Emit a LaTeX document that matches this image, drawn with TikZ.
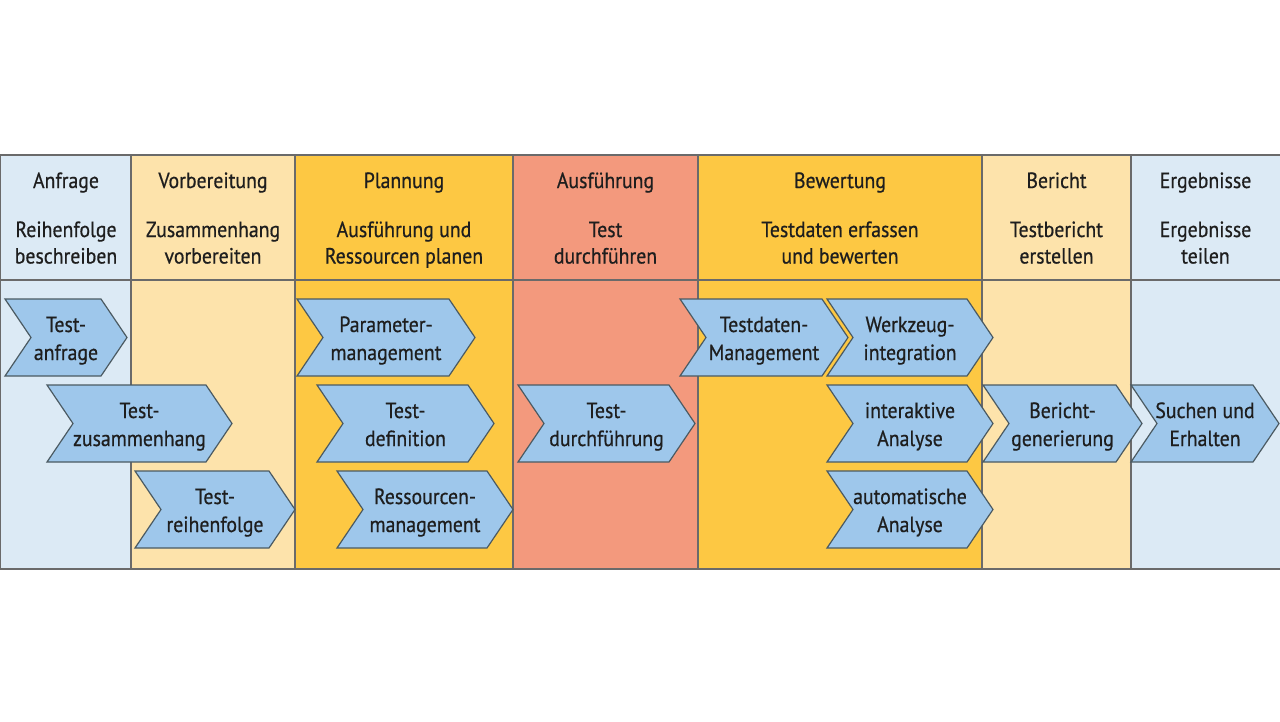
\documentclass[tikz,border=0pt]{standalone}
\usepackage{fontspec}
\setmainfont{PT Sans}[FakeStretch=0.9, FakeBold=0.6]
\definecolor{cblue}{HTML}{DCEAF5}
\definecolor{corange}{HTML}{FDE3AB}
\definecolor{cgold}{HTML}{FDC843}
\definecolor{csalmon}{HTML}{F3997D}
\definecolor{cchev}{HTML}{9EC7EB}
\definecolor{cline}{HTML}{6A6A6A}
\definecolor{cedge}{HTML}{4B5A62}
\definecolor{ctext}{HTML}{1E1E1E}
\newcommand\twolines[2]{\vtop{\halign{\hfil##\hfil\cr #1\cr #2\cr}}}
\tikzset{
  chevshape/.style={fill=cchev, draw=cedge, line width=1.2pt, line join=miter},
  chevlabel/.style={anchor=base, inner sep=0pt, text=ctext, font=\fontsize{22}{28}\selectfont},
  headtitle/.style={anchor=base, inner sep=0pt, text=ctext, font=\fontsize{22}{27}\selectfont},
  headsub/.style={anchor=base, inner sep=0pt, text=ctext, font=\fontsize{22}{26.5}\selectfont},
  gridline/.style={draw=cline, line width=1.2pt},
}
% #1 name, #2 left x, #3 top y, #4 width (left to tip), #5 line 1, #6 line 2
\newcommand\chevron[6]{%
  \path[chevshape] (#2,#3) -- ++({#4-26},0) -- ++(26,38.5) -- ++(-26,38.5)
     -- ++({-(#4-26)},0) -- ++(26,-38.5) -- cycle;
  \node[chevlabel] (#1) at ({#2+#4/2},{#3+33}) {\twolines{#5}{#6}};
}
\begin{document}
\begin{tikzpicture}[x=1pt,y=-1pt]
\useasboundingbox (0,0) rectangle (1280,721);
\fill[white] (0,0) rectangle (1280,721);
% column backgrounds
\fill[cblue]   (0,155)    rectangle (131,569);
\fill[corange] (131,155)  rectangle (295,569);
\fill[cgold]   (295,155)  rectangle (513,569);
\fill[csalmon] (513,155)  rectangle (698,569);
\fill[cgold]   (698,155)  rectangle (982,569);
\fill[corange] (982,155)  rectangle (1131,569);
\fill[cblue]   (1131,155) rectangle (1280,569);
% grid
\draw[gridline] (0,155) -- (1280,155);
\draw[gridline] (0,280) -- (1280,280);
\draw[gridline] (0,569) -- (1280,569);
\foreach \x in {0.6,131,295,513,698,982,1131}
  \draw[gridline] (\x,155) -- (\x,569);
% headers
\node[headtitle] (h1) at (66,188) {Anfrage};
\node[headtitle] (h2) at (213,188) {Vorbereitung};
\node[headtitle] (h3) at (404,188) {Plannung};
\node[headtitle] (h4) at (605.5,188) {Ausführung};
\node[headtitle] (h5) at (840,188) {Bewertung};
\node[headtitle] (h6) at (1056.5,188) {Bericht};
\node[headtitle] (h7) at (1205.5,188) {Ergebnisse};
\node[headsub] (s1) at (66,237) {\twolines{Reihenfolge}{beschreiben}};
\node[headsub] (s2) at (213,237) {\twolines{Zusammenhang}{vorbereiten}};
\node[headsub] (s3) at (404,237) {\twolines{Ausführung und}{Ressourcen planen}};
\node[headsub] (s4) at (605.5,237) {\twolines{Test}{durchführen}};
\node[headsub] (s5) at (840,237) {\twolines{Testdaten erfassen}{und bewerten}};
\node[headsub] (s6) at (1056.5,237) {\twolines{Testbericht}{erstellen}};
\node[headsub] (s7) at (1205.5,237) {\twolines{Ergebnisse}{teilen}};
% chevrons
\chevron{ta}{5}{299}{122}{Test-}{anfrage}
\chevron{tz}{47}{385}{185}{Test-}{zusammenhang}
\chevron{tr}{135}{471}{160}{Test-}{reihenfolge}
\chevron{pm}{297}{299}{178}{Parameter-}{management}
\chevron{td}{317}{385}{177}{Test-}{definition}
\chevron{rm}{337}{471}{176}{Ressourcen-}{management}
\chevron{tdf}{518}{385}{177}{Test-}{durchführung}
\chevron{tdm}{680}{299}{168}{Testdaten-}{Management}
\chevron{wi}{827}{299}{166}{Werkzeug-}{integration}
\chevron{ia}{827}{385}{166}{interaktive}{Analyse}
\chevron{aa}{827}{471}{166}{automatische}{Analyse}
\chevron{bg}{983}{385}{159}{Bericht-}{generierung}
\chevron{se}{1131}{385}{148}{Suchen und}{Erhalten}
\end{tikzpicture}
\end{document}
